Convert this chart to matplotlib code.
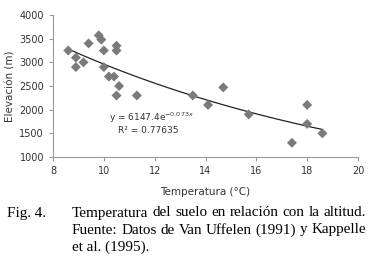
import numpy as np
import matplotlib.pyplot as plt

# Data
temperatura = [8.6, 8.9, 8.9, 9.2, 9.4, 9.8, 9.9, 10.0, 10.0, 10.2, 10.4, 10.5,
               10.5, 10.5, 10.6, 11.3, 13.5, 14.1, 14.7, 15.7, 17.4, 18.0, 18.0, 18.6]
elevacion = [3250, 3100, 2900, 3000, 3400, 3570, 3480, 3250, 2900, 2700, 2700, 3350,
             3250, 2300, 2500, 2300, 2300, 2100, 2470, 1900, 1300, 2100, 1700, 1500]
fit_a = 6147.4
fit_b = -0.073
r2 = 0.77635

caption_lines = [
    "Temperatura del suelo en relación con la altitud.",
    "Fuente: Datos de Van Uffelen (1991) y Kappelle",
    "et al. (1995).",
]

W, H = 371, 266
fig = plt.figure(figsize=(W / 100, H / 100), dpi=100)
ax = fig.add_axes([53 / W, 1 - 157 / H, (358 - 53) / W, (157 - 15) / H])

ax.scatter(temperatura, elevacion, marker='D', s=26, color='#7a7a7a',
           edgecolors='none', zorder=3)

# Exponential trend line
xs = np.linspace(min(temperatura), max(temperatura), 100)
ax.plot(xs, fit_a * np.exp(fit_b * xs), color='#222222', lw=0.9, zorder=2)

ax.set_xlim(8, 20)
ax.set_ylim(1000, 4000)
ax.set_xticks(range(8, 21, 2))
ax.set_yticks(range(1000, 4001, 500))
for s in ['top', 'right']:
    ax.spines[s].set_visible(False)
for s in ['left', 'bottom']:
    ax.spines[s].set_color('#9a9a9a')
    ax.spines[s].set_linewidth(0.8)
ax.tick_params(labelsize=7, colors='#9a9a9a', labelcolor='#333333', length=3, width=0.8)
ax.set_xlabel('Temperatura (°C)', fontsize=7.5, color='#333333', labelpad=8)
ax.set_ylabel('Elevación (m)', fontsize=7.5, color='#333333', labelpad=3)

ax.text(10.22, 1820, f'y = {fit_a}e$^{{\\mathrm{{-}}{abs(fit_b)}x}}$', fontsize=6.5,
        color='#333333', ha='left', va='center')
ax.text(10.55, 1560, f'R² = {r2}', fontsize=6.5, color='#333333',
        ha='left', va='center')

# Caption (justified serif text)
serif = 'Liberation Serif'
fs = 10.9
fig.text(7 / W, 1 - 213 / H, 'Fig. 4.', family=serif, fontsize=fs, va='center')
renderer = fig.canvas.get_renderer()
x0, x1 = 72 / W, 366 / W
for i, line in enumerate(caption_lines):
    y = 1 - (213 + 17 * i) / H
    words = line.split()
    if i == len(caption_lines) - 1:
        fig.text(x0, y, line, family=serif, fontsize=fs, va='center')
        continue
    widths = []
    arts = []
    for w in words:
        t = fig.text(0, y, w, family=serif, fontsize=fs, va='center')
        widths.append(t.get_window_extent(renderer).width / W)
        arts.append(t)
    gap = max((x1 - x0 - sum(widths)) / (len(words) - 1), 2 / W)
    x = x0
    for t, wd in zip(arts, widths):
        t.set_x(x)
        x += wd + gap

fig.savefig('out.png', dpi=100)
